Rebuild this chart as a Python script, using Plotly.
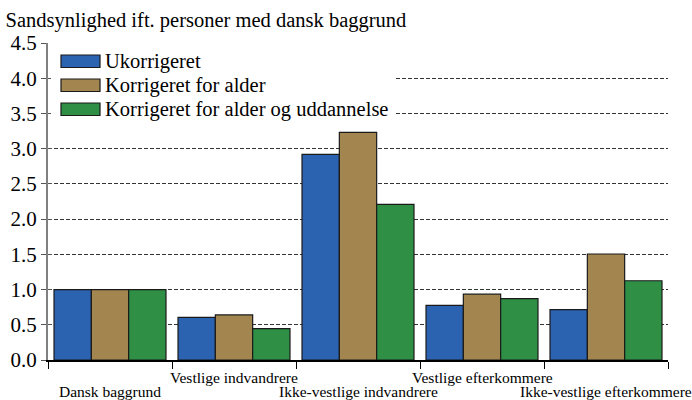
import plotly.graph_objects as go

categories = ["Dansk baggrund", "Vestlige indvandrere", "Ikke-vestlige indvandrere",
              "Vestlige efterkommere", "Ikke-vestlige efterkommere"]
series_names = ["Ukorrigeret", "Korrigeret for alder", "Korrigeret for alder og uddannelse"]
ukorrigeret = [1.0, 0.605, 2.92, 0.775, 0.715]
korr_alder = [1.0, 0.64, 3.23, 0.935, 1.505]
korr_alder_udd = [1.0, 0.445, 2.21, 0.87, 1.125]
colors = ["#2B63B1", "#A3864F", "#2E8F45"]
y_ticks = [0.0, 0.5, 1.0, 1.5, 2.0, 2.5, 3.0, 3.5, 4.0, 4.5]
title_text = "Sandsynlighed ift. personer med dansk baggrund"

FONT = "Liberation Serif"
W, H = 692, 400
ML, MR, MT, MB = 48, 24, 43, 40
PW, PH = W - ML - MR, H - MT - MB

fig = go.Figure()
for name, vals, col in zip(series_names, [ukorrigeret, korr_alder, korr_alder_udd], colors):
    fig.add_trace(go.Bar(
        x=categories, y=vals, name=name,
        marker=dict(color=col, line=dict(color="#1a1a1a", width=1.2)),
        showlegend=False,
    ))

def px_x(px):
    return (px - ML) / PW

def px_y(py):
    return (H - MB - py) / PH

shapes = []
annotations = []

# legend background (hides gridlines like the original)
shapes.append(dict(type="rect", xref="paper", yref="paper",
                   x0=px_x(51), x1=px_x(395), y0=px_y(122), y1=px_y(48),
                   fillcolor="white", line=dict(width=0), layer="above"))
for i, (name, col) in enumerate(zip(series_names, colors)):
    top = 55 + i * 24
    shapes.append(dict(type="rect", xref="paper", yref="paper",
                       x0=px_x(61), x1=px_x(100), y0=px_y(top + 12.5), y1=px_y(top),
                       fillcolor=col, line=dict(color="#1a1a1a", width=1.2), layer="above"))
    annotations.append(dict(xref="paper", yref="paper", x=px_x(103), y=px_y(top + 6.5),
                            text=name, showarrow=False, xanchor="left", yanchor="middle",
                            font=dict(family=FONT, size=20.5, color="black")))

# staggered category labels
for i, c in enumerate(categories):
    ypx = 391 if i % 2 == 0 else 377
    annotations.append(dict(xref="x", yref="paper", x=c, y=px_y(ypx), text=c,
                            showarrow=False, xanchor="center", yanchor="middle",
                            font=dict(family=FONT, size=15.5, color="black")))

fig.update_layout(
    width=W, height=H,
    margin=dict(l=ML, r=MR, t=MT, b=MB, pad=0),
    paper_bgcolor="white", plot_bgcolor="white",
    barmode="group", bargap=0.097, bargroupgap=0,
    title=dict(text=title_text, x=0.008, xref="container", xanchor="left",
               y=1 - 20 / H, yref="container", yanchor="middle",
               font=dict(family=FONT, size=20.5, color="black")),
    font=dict(family=FONT, color="black"),
    shapes=shapes, annotations=annotations,
    xaxis=dict(type="category", showgrid=False, showline=True, linecolor="black",
               linewidth=1.5, ticks="outside", tickson="boundaries", ticklen=7,
               tickcolor="black", showticklabels=False, zeroline=False,
               range=[-0.5, len(categories) - 0.5]),
    yaxis=dict(range=[0, 4.5], tickvals=y_ticks,
               ticktext=[f"{v:.1f}" for v in y_ticks],
               showgrid=True, gridcolor="#333333", griddash="4px,2px", gridwidth=1,
               showline=True, linecolor="#808080", linewidth=2,
               ticks="outside", ticklen=5, tickcolor="#555555",
               tickfont=dict(family=FONT, size=21, color="black"),
               zeroline=False),
    yaxis2=dict(range=[0, 4.5], tickvals=y_ticks, overlaying="y", side="left",
                showgrid=False, showline=False, ticks="inside", ticklen=4,
                tickcolor="#555555", showticklabels=False, zeroline=False),
)
# invisible trace to activate the second (inside-tick) y axis
fig.add_trace(go.Scatter(x=[categories[0]], y=[0], yaxis="y2", mode="markers",
                         marker=dict(opacity=0), showlegend=False, hoverinfo="skip"))

fig.write_html("out.html", config={"displayModeBar": False},
               post_script="document.body.style.margin='0';")
